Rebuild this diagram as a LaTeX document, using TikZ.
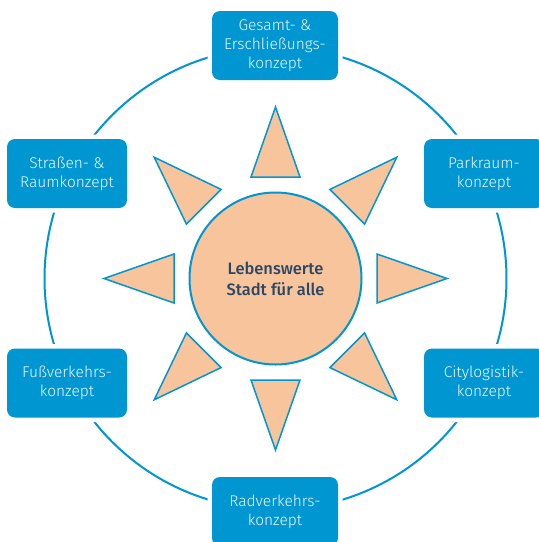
\documentclass[tikz,border=0pt]{standalone}
\usepackage{fontspec}
\setmainfont{Fira Sans}[UprightFont=* Light, BoldFont=* Medium]
\usetikzlibrary{calc}
\definecolor{skyblue}{HTML}{0096D2}
\definecolor{peach}{HTML}{F7C49C}
\definecolor{boxtext}{HTML}{EEF8FC}
\definecolor{hubtext}{HTML}{2B4766}
\tikzset{
  ring/.style={draw=skyblue, line width=2pt},
  ray/.style={draw=skyblue, fill=peach, line width=1.5pt, line join=miter},
  hub/.style={circle, draw=skyblue, fill=peach, line width=2pt, minimum size=172pt,
    inner sep=0pt, align=center, text=hubtext,
    font=\fontsize{16.5}{21}\selectfont\bfseries},
  topic/.style={rectangle, rounded corners=8pt, fill=skyblue,
    preaction={draw=white, line width=9pt},
    minimum height=69pt, inner sep=0pt, align=center, text=boxtext,
    font=\fontsize{15.5}{18.7}\selectfont},
  widetopic/.style={topic, minimum width=126pt},
  sidetopic/.style={topic, minimum width=120pt}
}
\begin{document}
\begin{tikzpicture}[x=1pt,y=-1pt]
  \useasboundingbox (0,0) rectangle (539,542);
  \clip (0,0) rectangle (539,542);
  \fill[white] (0,0) rectangle (539,542);
  \coordinate (c) at (275.5,278.5);

  % outer ring linking the six concepts
  \draw[ring] (c) circle[radius=231];

  % eight sun rays
  \foreach \a in {0,45,...,315} {
    \draw[ray] ($(c)+(\a:171.5)$)
      -- ($(c)+(\a:101.5)+(\a+90:24.5)$)
      -- ($(c)+(\a:101.5)+(\a-90:24.5)$) -- cycle;
  }

  % central goal
  \node[hub] (hub) at (c) {Lebenswerte\\Stadt für alle};

  % concept boxes on the ring
  \node[widetopic] (gesamt) at (275,45.5) {Gesamt- \&\\Erschließungs-\\konzept};
  \node[sidetopic] (strasse) at (67,173.5) {Straßen- \&\\Raumkonzept};
  \node[sidetopic] (park) at (484,173.5) {Parkraum-\\konzept};
  \node[sidetopic] (fuss) at (67,383) {Fußverkehrs-\\konzept};
  \node[sidetopic] (city) at (484,383) {Citylogistik-\\konzept};
  \node[widetopic] (rad) at (275,511.5) {Radverkehrs-\\konzept};
\end{tikzpicture}
\end{document}
